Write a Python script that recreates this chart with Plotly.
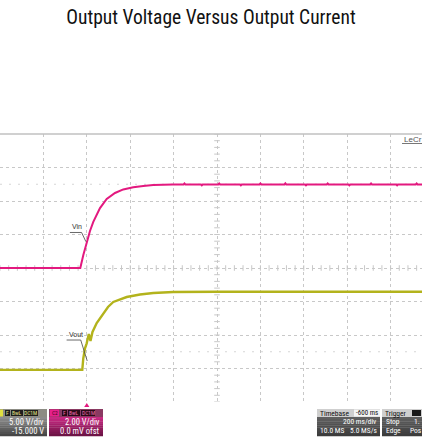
import numpy as np
import plotly.graph_objects as go

# ---------------- data ----------------
# Vin (channel C2, pink, 2 V/div, 0 V offset); time in ms relative to trigger
vin_t = [-400, -30, -16, -0.5, 14.7, 29.9, 45.6, 60.8, 91.7, 130, 168, 214, 260, 306, 397,
         446, 450, 454, 526, 530, 534, 606, 610, 614, 706, 710, 714, 796, 800, 804, 911, 915,
         919, 1006, 1010, 1014, 1106, 1110, 1114, 1206, 1210, 1214, 1306, 1310, 1314,
         1426, 1430, 1434, 1516, 1520, 1524, 1545]
vin_v = [0.0, 0.0, 0.78, 1.57, 2.21, 2.75, 3.19, 3.58, 4.12, 4.48, 4.69, 4.82, 4.90, 4.96, 4.99,
         4.99, 5.05, 4.99, 4.99, 4.94, 4.99, 4.99, 5.05, 4.99, 4.99, 4.94, 4.99, 4.99, 5.05,
         4.99, 4.99, 5.05, 4.99, 4.99, 4.94, 4.99, 4.99, 5.05, 4.99, 4.99, 4.94, 4.99, 4.99,
         5.05, 4.99, 4.99, 4.94, 4.99, 4.99, 5.05, 4.99, 4.99]

# Vout (channel C1, olive yellow, 5 V/div, -15 V offset)
vout_t = [-400, -20.8, -16.2, -8.3, -0.5, 9.2, 17.0, 26.2, 45.6, 70.0, 97.7, 122.1, 183.8,
          245.1, 306.4, 398.6, 598.6, 1545]
vout_v = [-0.2, -0.2, 1.52, 3.02, 3.76, 5.15, 4.10, 5.45, 6.79, 7.99, 9.18, 9.93, 10.67,
          11.04, 11.27, 11.42, 11.45, 11.45]

title_text = "Output Voltage Versus Output Current"
c1_lines = ["5.00 V/div", "-15.000 V"]
c2_lines = ["2.00 V/div", "0.0 mV ofst"]
timebase = {"delay": "-600 ms", "scale": "200 ms/div", "samples": "10.0 MS", "rate": "5.0 MS/s"}
trigger = {"mode": "Stop", "level": "1.", "type": "Edge", "slope": "Pos"}

# ---------------- scope geometry ----------------
W, H = 422, 437
TOP, BOT = 134, 402            # grid area in pixels
DIV_PX = 43.4                  # horizontal px per division
MS_PER_DIV = 200
X0 = -400                      # time at left edge
X1 = X0 + W / DIV_PX * MS_PER_DIV
VIN_RANGE = [-8, 8]            # 2 V/div, 8 divisions
VOUT_RANGE = [-5, 35]          # 5 V/div, -15 V offset

PINK = "#e3197f"
OLIVE = "#b3b31c"
GRID = "#c8c8c8"
NARROW = "Liberation Sans Narrow, Arial Narrow, Roboto Condensed, sans-serif"


def py(ypx):
    """pixel row -> paper y"""
    return (BOT - ypx) / (BOT - TOP)


def px(xpx):
    return xpx / W


fig = go.Figure()

# center cross-hair tick marks (grid decoration, derived from divisions)
cx = np.arange(X0, X1, MS_PER_DIV / 5)
fig.add_trace(go.Scatter(x=cx, y=np.zeros_like(cx), mode="markers", hoverinfo="skip",
                         marker=dict(symbol="line-ns", size=4, line=dict(width=1, color=GRID)),
                         showlegend=False))
cy = np.arange(VIN_RANGE[0], VIN_RANGE[1] + 0.01, 0.4)
fig.add_trace(go.Scatter(x=np.full_like(cy, 600.0), y=cy, mode="markers", hoverinfo="skip",
                         marker=dict(symbol="line-ew", size=4, line=dict(width=1, color=GRID)),
                         showlegend=False))

fig.add_trace(go.Scatter(x=vin_t, y=vin_v, mode="lines", name="Vin",
                         line=dict(color=PINK, width=2), showlegend=False))
fig.add_trace(go.Scatter(x=vout_t, y=vout_v, mode="lines", name="Vout", yaxis="y2",
                         line=dict(color=OLIVE, width=2.4), showlegend=False))

shapes = []
annos = []

# faint dotted level lines
for lv in (5, -5):
    shapes.append(dict(type="line", xref="paper", yref="y", x0=0, x1=1, y0=lv, y1=lv,
                       line=dict(color="#d6d6d6", width=1, dash="2px,7px"), layer="below"))
# top border
shapes.append(dict(type="line", xref="paper", yref="paper", x0=0, x1=1, y0=1, y1=1,
                   line=dict(color="#c0c0c0", width=1.5)))

# Vin / Vout labels with underline and leader
lab_font = dict(family="Liberation Sans, Arial, sans-serif", size=7, color="#333333")
annos.append(dict(x=-77, y=2.12, xref="x", yref="y", text="Vin", showarrow=False,
                  xanchor="left", yanchor="bottom", font=lab_font))
shapes.append(dict(type="path", xref="x", yref="y",
                   path="M -78,2.12 L -24,2.12 L -4,1.57", line=dict(color="#444", width=0.8)))
annos.append(dict(x=-92, y=-4.3, xref="x", yref="y", text="Vout", showarrow=False,
                  xanchor="left", yanchor="bottom", font=lab_font))
shapes.append(dict(type="path", xref="x", yref="y",
                   path="M -93,-4.3 L -28,-4.3 L 2,-5.55", line=dict(color="#444", width=0.8)))

# LeCroy label
annos.append(dict(x=px(402), y=py(139), xref="paper", yref="paper", text="LeCr",
                  showarrow=False, xanchor="left", yanchor="middle",
                  font=dict(family="Liberation Sans, Arial, sans-serif", size=8, color="#555")))
shapes.append(dict(type="line", xref="paper", yref="paper", x0=px(402), x1=1,
                   y0=py(143.5), y1=py(143.5), line=dict(color="#777", width=1)))

# trigger marker
shapes.append(dict(type="path", xref="x", yref="paper",
                   path=f"M -12,{py(407)} L 12,{py(407)} L 0,{py(403)} Z",
                   fillcolor=PINK, line=dict(width=0)))


def gradient_box(x0, x1, y0, y1, c_top, c_bot, n=9):
    h = (y1 - y0) / n
    for i in range(n):
        f = i / (n - 1)
        c = tuple(int(round(c_top[k] + (c_bot[k] - c_top[k]) * f)) for k in range(3))
        shapes.append(dict(type="rect", xref="paper", yref="paper",
                           x0=px(x0), x1=px(x1), y0=py(y0 + i * h), y1=py(y0 + (i + 1) * h + 0.3),
                           fillcolor=f"rgb{c}", line=dict(width=0), layer="above"))


def rect(x0, x1, y0, y1, color):
    shapes.append(dict(type="rect", xref="paper", yref="paper", x0=px(x0), x1=px(x1),
                       y0=py(y0), y1=py(y1), fillcolor=color, line=dict(width=0), layer="above"))


def txt(x, y, s, anchor="left", size=8, color="white", family=NARROW):
    annos.append(dict(x=px(x), y=py(y), xref="paper", yref="paper", text=s, showarrow=False,
                      xanchor=anchor, yanchor="middle",
                      font=dict(family=family, size=size, color=color)))


# C1 box (yellow channel)
rect(0, 47, 409, 417, "#8c8c84")
rect(0, 3, 409.5, 416.5, "#e0e040")
for (a, b, s) in [(5, 10, "F"), (11, 23, "BwL"), (24, 38, "DC1M")]:
    rect(a, b, 410, 416, "#1e1e1e")
    txt((a + b) / 2, 413, s, "center", 5.5, "#e6e68a")
gradient_box(0, 47, 417, 436, (140, 140, 140), (70, 70, 70))
txt(46, 421.5, c1_lines[0], "right", 8.5)
txt(46, 430.5, c1_lines[1], "right", 8.5)

# C2 box (pink channel)
rect(49, 103, 409, 417, "#8a3a62")
rect(50, 59, 409.5, 416.5, "#e8208a")
txt(54.5, 413, "C2", "center", 5.5, "#400020")
for (a, b, s) in [(62, 67, "F"), (68, 80, "BwL"), (81, 95, "DC1M")]:
    rect(a, b, 410, 416, "#2a0a18")
    txt((a + b) / 2, 413, s, "center", 5.5, "#f070b0")
gradient_box(49, 103, 417, 436, (200, 40, 130), (110, 20, 70))
txt(102, 421.5, c2_lines[0], "right", 8.5)
txt(102, 430.5, c2_lines[1], "right", 8.5)

# Timebase box
rect(317, 380, 409, 417, "#cfcfcf")
rect(354, 380, 409.5, 416.5, "#f4f4f4")
txt(318, 413, "Timebase", "left", 7.5, "#111")
txt(380, 413, timebase["delay"], "right", 7, "#111")
gradient_box(317, 380, 417, 436, (95, 95, 95), (60, 60, 60))
txt(379, 421.5, timebase["scale"], "right", 7.5)
txt(318, 430.5, timebase["samples"], "left", 7.5)
txt(379, 430.5, timebase["rate"], "right", 7.5)

# Trigger box
rect(382, 422, 409, 417, "#cfcfcf")
rect(412, 421, 410, 416, "#1a1a1a")
txt(383, 413, "Trigger", "left", 7.5, "#111")
gradient_box(382, 422, 417, 436, (95, 95, 95), (60, 60, 60))
txt(384, 421.5, trigger["mode"], "left", 7.5)
txt(412, 421.5, trigger["level"], "left", 7.5)
txt(384, 430.5, trigger["type"], "left", 7.5)
txt(408, 430.5, trigger["slope"], "left", 7.5)

fig.update_layout(
    width=W, height=H,
    margin=dict(l=0, r=0, t=TOP, b=H - BOT, pad=0),
    paper_bgcolor="white", plot_bgcolor="white",
    title=dict(text=title_text, x=0.5, xanchor="center", y=1 - 17 / H, yanchor="middle",
               yref="container",
               font=dict(family=NARROW, size=19.5, color="#111")),
    xaxis=dict(range=[X0, X1], tick0=X0, dtick=MS_PER_DIV, showgrid=True, gridcolor=GRID,
               griddash="dot", gridwidth=1, zeroline=False, showticklabels=False, ticks="",
               showline=False, fixedrange=True),
    yaxis=dict(range=VIN_RANGE, tick0=VIN_RANGE[0], dtick=2, showgrid=True, gridcolor=GRID,
               griddash="dot", gridwidth=1, zeroline=False, showticklabels=False, ticks="",
               showline=False, fixedrange=True),
    yaxis2=dict(range=VOUT_RANGE, overlaying="y", showgrid=False, zeroline=False,
                showticklabels=False, ticks="", showline=False, fixedrange=True),
    shapes=shapes, annotations=annos,
    showlegend=False,
)

fig.write_html("out.html", config={"displayModeBar": False},
               post_script="document.body.style.margin='0';document.body.style.padding='0';"
                           "document.documentElement.style.overflow='hidden';")
